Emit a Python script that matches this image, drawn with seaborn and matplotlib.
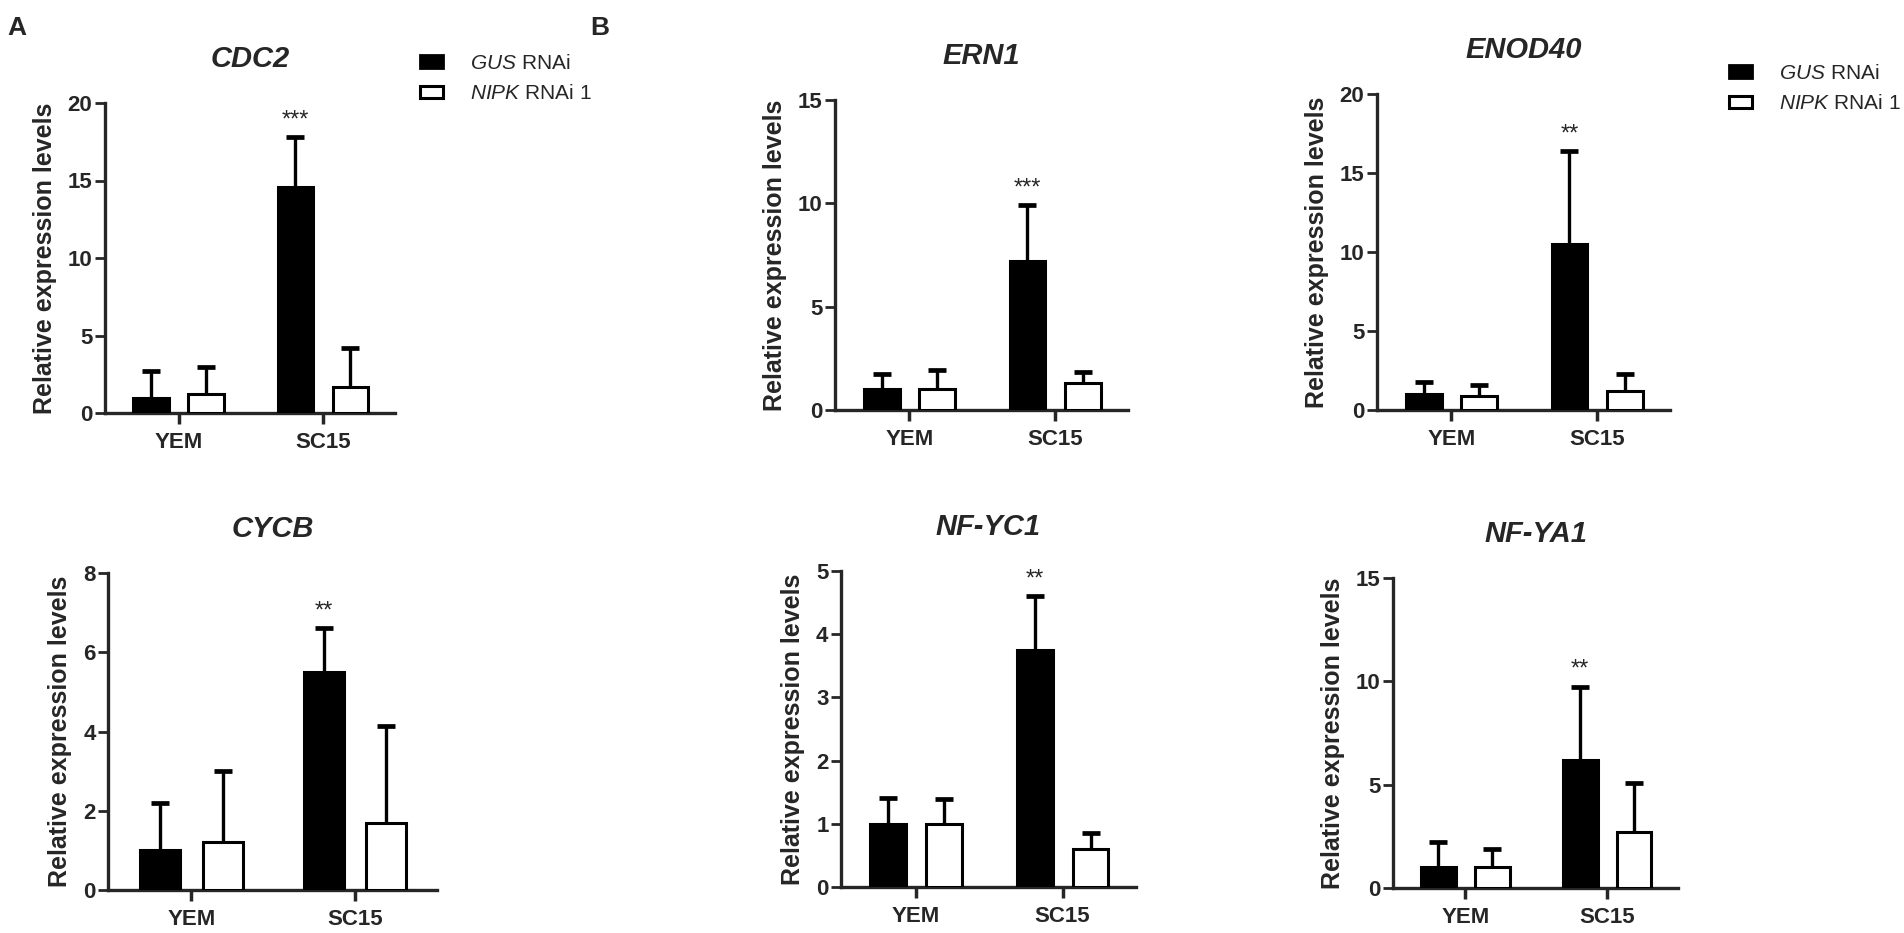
import numpy as np
import pandas as pd
import matplotlib
matplotlib.use("Agg")
import matplotlib.pyplot as plt
import seaborn as sns
from matplotlib.patches import Patch

# categories and groups
conditions = ["YEM", "SC15"]
lines = ["GUS RNAi", "NIPK RNAi 1"]

# mean and SD (upper error), order = YEM, SC15
cdc2_gus = [1.0, 14.6]
cdc2_gus_sd = [1.7, 3.2]
cdc2_nipk = [1.2, 1.7]
cdc2_nipk_sd = [1.8, 2.5]

cycb_gus = [1.0, 5.5]
cycb_gus_sd = [1.2, 1.1]
cycb_nipk = [1.2, 1.7]
cycb_nipk_sd = [1.8, 2.45]

ern1_gus = [1.0, 7.2]
ern1_gus_sd = [0.75, 2.7]
ern1_nipk = [1.0, 1.3]
ern1_nipk_sd = [0.95, 0.55]

enod40_gus = [1.0, 10.5]
enod40_gus_sd = [0.75, 5.9]
enod40_nipk = [0.9, 1.2]
enod40_nipk_sd = [0.7, 1.1]

nfyc1_gus = [1.0, 3.75]
nfyc1_gus_sd = [0.41, 0.85]
nfyc1_nipk = [1.0, 0.6]
nfyc1_nipk_sd = [0.4, 0.25]

nfya1_gus = [1.0, 6.2]
nfya1_gus_sd = [1.25, 3.55]
nfya1_nipk = [1.0, 2.7]
nfya1_nipk_sd = [0.9, 2.4]

sns.set_style("ticks")
plt.rcParams["font.family"] = ["Liberation Sans", "DejaVu Sans"]
plt.rcParams["mathtext.fontset"] = "custom"
plt.rcParams["mathtext.it"] = "Liberation Sans:italic"
plt.rcParams["mathtext.rm"] = "Liberation Sans"

W, H = 1904, 933
fig = plt.figure(figsize=(W / 100, H / 100), dpi=100)


def px_rect(x0, x1, y0, ytop):
    # axes rectangle from pixel positions (x0 = y-axis, y0 = zero line)
    return [x0 / W, 1 - y0 / H, (x1 - x0) / W, (y0 - ytop) / H]


def draw_panel(rect, gene, gus, gus_sd, nipk, nipk_sd, ymax, ystep, stars):
    ax = fig.add_axes(rect)
    df = pd.DataFrame({
        "condition": conditions * 2,
        "line": [lines[0]] * 2 + [lines[1]] * 2,
        "mean": gus + nipk,
    })
    sns.barplot(data=df, x="condition", y="mean", hue="line",
                palette=["black", "white"], saturation=1,
                edgecolor="black", linewidth=2.2, width=0.76, gap=0.355,
                errorbar=None, legend=False, ax=ax, zorder=3)
    # upper-only error bars (SD), drawn behind the bars
    for cont, sds in zip(ax.containers, [gus_sd, nipk_sd]):
        for bar, sd in zip(cont, sds):
            xc = bar.get_x() + bar.get_width() / 2
            h = bar.get_height()
            ax.vlines(xc, h, h + sd, colors="black", linewidth=2.4, zorder=2)
            ax.plot([xc], [h + sd], marker="_", ms=13, mew=3.4,
                    color="black", zorder=2, clip_on=False)
    # significance stars over the GUS SC15 bar
    bar = ax.containers[0][1]
    top = gus[1] + gus_sd[1]
    ax.annotate(stars, xy=(bar.get_x() + bar.get_width() / 2, top),
                xytext=(0, 4), textcoords="offset points",
                ha="center", va="bottom", fontsize=17)

    ax.set_xlim(-0.51, 1.5)
    ax.set_ylim(0, ymax)
    ax.set_yticks(np.arange(0, ymax + ystep / 2, ystep))
    sns.despine(ax=ax)
    for s in ["left", "bottom"]:
        ax.spines[s].set_linewidth(2.4)
    ax.tick_params(axis="y", length=7, width=2, labelsize=16, pad=2)
    ax.tick_params(axis="x", length=8, width=2.5, labelsize=16, pad=6)
    for lab in ax.get_xticklabels() + ax.get_yticklabels():
        lab.set_fontweight("bold")
    ax.set_xlabel("")
    ax.set_ylabel("Relative expression levels", fontsize=18,
                  fontweight="bold", labelpad=8)
    ax.set_title(gene, fontsize=21, fontweight="bold", fontstyle="italic",
                 pad=26)
    return ax


draw_panel(px_rect(105, 395, 413, 103), "CDC2", cdc2_gus, cdc2_gus_sd,
           cdc2_nipk, cdc2_nipk_sd, 20, 5, "***")
draw_panel(px_rect(108, 437, 890, 573), "CYCB", cycb_gus, cycb_gus_sd,
           cycb_nipk, cycb_nipk_sd, 8, 2, "**")
draw_panel(px_rect(835, 1128, 410, 100), "ERN1", ern1_gus, ern1_gus_sd,
           ern1_nipk, ern1_nipk_sd, 15, 5, "***")
draw_panel(px_rect(1377, 1670, 410, 94), "ENOD40", enod40_gus, enod40_gus_sd,
           enod40_nipk, enod40_nipk_sd, 20, 5, "**")
draw_panel(px_rect(841, 1136, 887, 571), "NF-YC1", nfyc1_gus, nfyc1_gus_sd,
           nfyc1_nipk, nfyc1_nipk_sd, 5, 1, "**")
draw_panel(px_rect(1393, 1678, 888, 578), "NF-YA1", nfya1_gus, nfya1_gus_sd,
           nfya1_nipk, nfya1_nipk_sd, 15, 5, "**")

# legends
leg_labels = [r"$\mathit{GUS}$ RNAi", r"$\mathit{NIPK}$ RNAi 1"]


def add_legend(x, y):
    handles = [Patch(facecolor="black", edgecolor="black", linewidth=2),
               Patch(facecolor="white", edgecolor="black", linewidth=2.2)]
    fig.legend(handles=handles, labels=leg_labels, loc="upper left",
               bbox_to_anchor=(x / W, 1 - y / H), frameon=False, fontsize=15,
               handlelength=1.1, handleheight=0.55, handletextpad=1.3,
               labelspacing=0.55, borderpad=0, borderaxespad=0)


add_legend(420, 54)
add_legend(1729, 64)

# panel letters
fig.text(7 / W, 1 - 16 / H, "A", fontsize=19, fontweight="bold",
         ha="left", va="top")
fig.text(590 / W, 1 - 16 / H, "B", fontsize=19, fontweight="bold",
         ha="left", va="top")

fig.savefig("out.png", dpi=100)
